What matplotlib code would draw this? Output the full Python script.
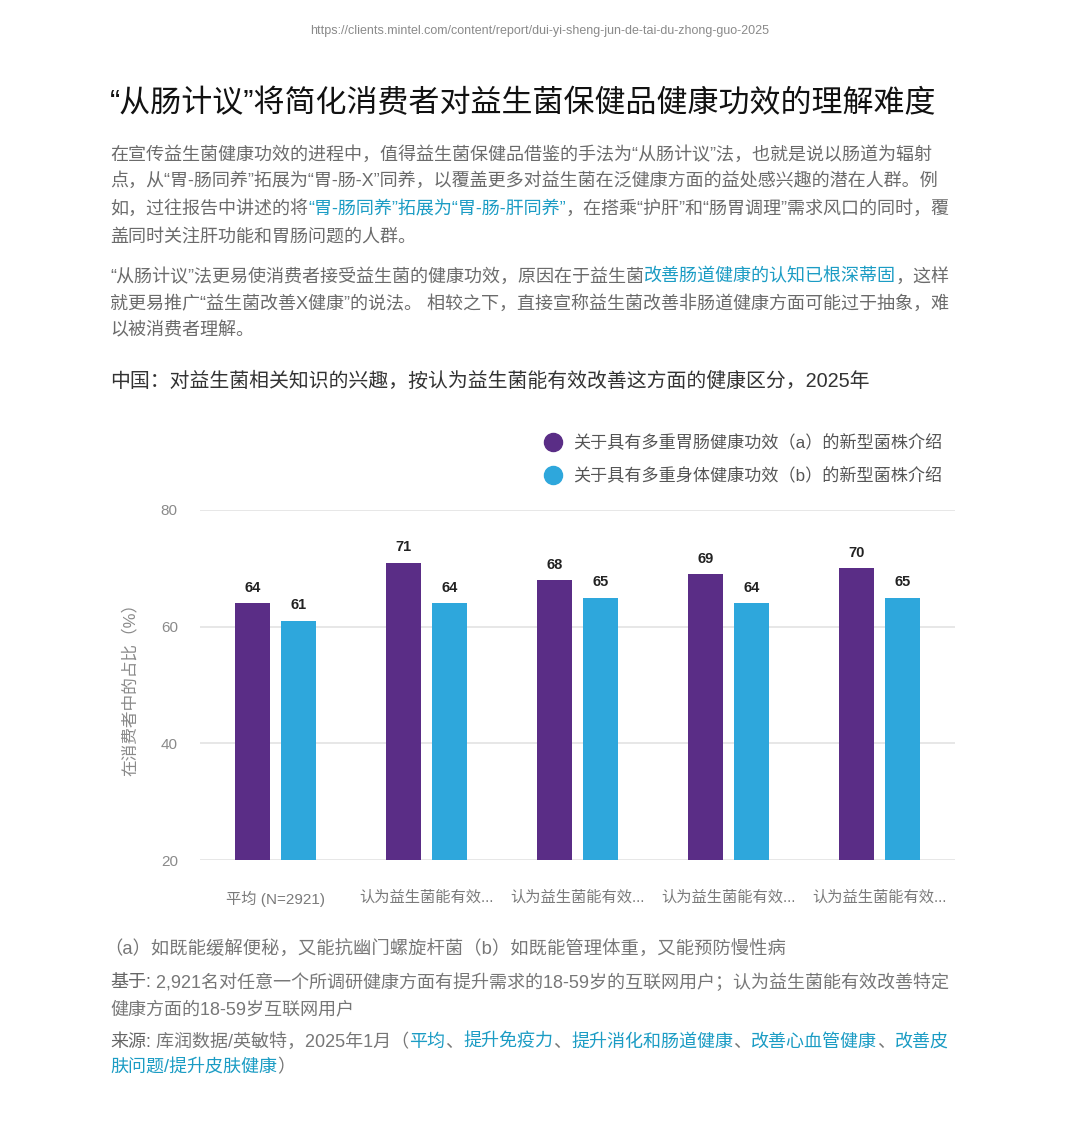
import matplotlib
matplotlib.use("Agg")
import matplotlib.pyplot as plt
from matplotlib.lines import Line2D
import numpy as np

plt.rcParams['font.family'] = ['Liberation Sans', 'Noto Sans CJK SC', 'DejaVu Sans']

W, H = 1080, 1131

# data
categories = ["平均 (N=2921)", "认为益生菌能有效...", "认为益生菌能有效...",
              "认为益生菌能有效...", "认为益生菌能有效..."]
series_a = [64, 71, 68, 69, 70]
series_b = [61, 64, 65, 64, 65]
legend_a = "关于具有多重胃肠健康功效（a）的新型菌株介绍"
legend_b = "关于具有多重身体健康功效（b）的新型菌株介绍"
yticks = [20, 40, 60, 80]

PURPLE = "#5a2d86"
BLUE = "#2ea7dc"
TEAL = "#1b9cc4"
BODY = "#6b6b6b"
NOTE = "#777777"

fig = plt.figure(figsize=(W / 100, H / 100), dpi=100)
fig.patch.set_facecolor("white")
r = fig.canvas.get_renderer()


def seg_line(y_px, parts, x_px=110, size=13, **kw):
    # draw a line of text made of coloured pieces, one after the other
    x = x_px / W
    for p in parts:
        txt, col = p[0], p[1]
        extra = dict(kw)
        if len(p) > 2:
            extra['fontweight'] = p[2]
        t = fig.text(x, 1 - y_px / H, txt, color=col, fontsize=size,
                     ha='left', va='center', **extra)
        bb = t.get_window_extent(renderer=r)
        x = bb.x1 / W


fig.text(0.5, 1 - 31 / H, "https://clients.mintel.com/content/report/dui-yi-sheng-jun-de-tai-du-zhong-guo-2025",
         ha='center', va='center', fontsize=9, color="#8a8a8a")

fig.text(110 / W, 1 - 104 / H, "“从肠计议”将简化消费者对益生菌保健品健康功效的理解难度",
         ha='left', va='center', fontsize=22.3, color="#111111")

# paragraph 1
seg_line(155, [("在宣传益生菌健康功效的进程中，值得益生菌保健品借鉴的手法为“从肠计议”法，也就是说以肠道为辐射", BODY)])
seg_line(181, [("点，从“胃-肠同养”拓展为“胃-肠-X”同养，以覆盖更多对益生菌在泛健康方面的益处感兴趣的潜在人群。例", BODY)])
seg_line(209, [("如，过往报告中讲述的将", BODY), ("“胃-肠同养”拓展为“胃-肠-肝同养”", TEAL),
               ("，在搭乘“护肝”和“肠胃调理”需求风口的同时，覆", BODY)])
seg_line(237, [("盖同时关注肝功能和胃肠问题的人群。", BODY)])

# paragraph 2
seg_line(277, [("“从肠计议”法更易使消费者接受益生菌的健康功效，原因在于益生菌", BODY),
               ("改善肠道健康的认知已根深蒂固", TEAL), ("，这样", BODY)])
seg_line(304, [("就更易推广“益生菌改善X健康”的说法。 相较之下，直接宣称益生菌改善非肠道健康方面可能过于抽象，难", BODY)])
seg_line(331, [("以被消费者理解。", BODY)])

# chart title
seg_line(381, [("中国：对益生菌相关知识的兴趣，按认为益生菌能有效改善这方面的健康区分，2025年", "#333333")], size=14.3)

# chart
ax = fig.add_axes([200 / W, 1 - 860 / H, 755 / W, 350 / H])
x = np.arange(len(categories))
bw = 0.232
off = 0.152
bars_a = ax.bar(x - off, series_a, bw, color=PURPLE, zorder=3)
bars_b = ax.bar(x + off, series_b, bw, color=BLUE, zorder=3)
for bars in (bars_a, bars_b):
    ax.bar_label(bars, padding=6, fontsize=10.5, fontweight='bold', color="#222222")

ax.set_xlim(-0.5, len(categories) - 0.5)
ax.set_ylim(20, 80)
ax.set_yticks(yticks)
ax.set_xticks(x)
ax.set_xticklabels(categories, fontsize=11, color="#7a7a7a")
ax.tick_params(axis='y', labelsize=11, labelcolor="#8a8a8a", length=0, pad=16)
ax.tick_params(axis='x', length=0, pad=22)
ax.grid(axis='y', color="#e3e3e3", linewidth=1.2, zorder=0)
for s in ax.spines.values():
    s.set_visible(False)
ax.set_ylabel("在消费者中的占比（%）", fontsize=12, color="#8a8a8a")
ax.yaxis.set_label_coords(-0.083, 0.5)

handles = [Line2D([], [], marker='o', linestyle='', markersize=13, color=PURPLE),
           Line2D([], [], marker='o', linestyle='', markersize=13, color=BLUE)]
fig.legend(handles, [legend_a, legend_b], loc='center left',
           bbox_to_anchor=(527 / W, 1 - 459 / H), frameon=False, fontsize=12.3,
           labelcolor="#555555", handletextpad=0.2, labelspacing=0.95, borderpad=0)

# notes
seg_line(950, [("（a）如既能缓解便秘，又能抗幽门螺旋杆菌（b）如既能管理体重，又能预防慢性病", NOTE)], x_px=104, size=13.2)
seg_line(983, [("基于:", "#666666", 'medium'),
               (" 2,921名对任意一个所调研健康方面有提升需求的18-59岁的互联网用户；认为益生菌能有效改善特定", NOTE)], size=13)
seg_line(1010, [("健康方面的18-59岁互联网用户", NOTE)], size=13)
seg_line(1042, [("来源:", "#666666", 'medium'), (" 库润数据/英敏特，2025年1月（", NOTE), ("平均", TEAL), ("、", NOTE),
                ("提升免疫力", TEAL), ("、", NOTE), ("提升消化和肠道健康", TEAL), ("、", NOTE),
                ("改善心血管健康", TEAL), ("、", NOTE), ("改善皮", TEAL)], size=13)
seg_line(1068, [("肤问题/提升皮肤健康", TEAL), ("）", NOTE)], size=13)

fig.savefig("out.png", dpi=100, facecolor="white")
